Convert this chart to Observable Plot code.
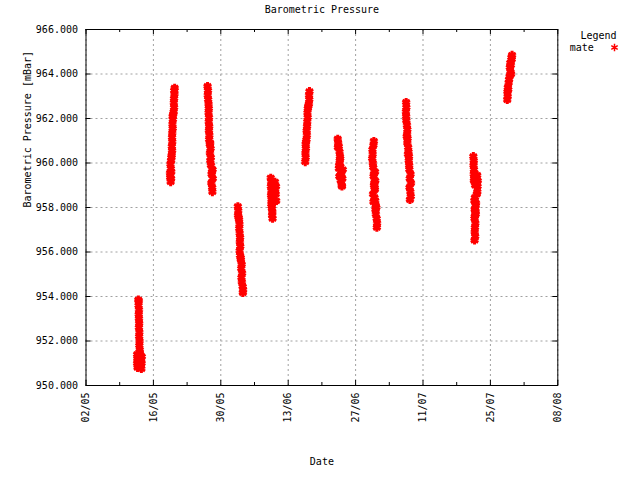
<!DOCTYPE html>
<html><head><meta charset="utf-8">
<script src="https://cdn.jsdelivr.net/npm/d3@7"></script>
<script src="https://cdn.jsdelivr.net/npm/@observablehq/plot@0.6"></script>
<style>body{margin:0;background:#fff}</style>
</head><body><div id="chart"></div>
<script>
// Texts
const chartTitle = "Barometric Pressure";
const xLabel = "Date";
const yLabel = "Barometric Pressure [mBar]";
const legendTitle = "Legend";
const seriesName = "mate";

// Tick labels
const yTicks = [950, 952, 954, 956, 958, 960, 962, 964, 966];
const xTicks = ["2011-05-02","2011-05-16","2011-05-30","2011-06-13","2011-06-27","2011-07-11","2011-07-25","2011-08-08"];
const xMinorTicks = ["2011-05-09","2011-05-23","2011-06-06","2011-06-20","2011-07-04","2011-07-18","2011-08-01"];

// Measurement sessions: start day, hours after start, pressure readings
const sessionStart = ["2011-05-12","2011-05-19","2011-05-27","2011-06-02","2011-06-09","2011-06-16","2011-06-23","2011-06-30","2011-07-07","2011-07-21","2011-07-28"];
const sessionHours = [
  [21,23,22,24,23,24,25,24,26,25,27,26,28,27,15,16,38,15,37,17,36,20,30,33,30,18,35],
  [14,12,16,11,15,17,13,16,19,21,20,22,21,22,24,23,25,24,29,31,30,31,33,32,34,18,27],
  [6,8,7,9,11,12,11,13,12,14,13,15,14,17,21,18,22,20,23,31,26,32,25,29,30,28,19],
  [13,15,14,19,21,20,22,24,23,25,22,24,28,32,30,34,31,33,37,39,38,17,27],
  [9,11,10,12,11,13,12,20,25,30,35,34,36,22,28,15,17,16,18,31,14,24,20,26,14],
  [13,15,14,16,15,19,21,20,22,23,25,24,26,31,33,32,34,28,17],
  [7,9,8,16,18,17,14,20,32,25,15,30,22,27,28,12,24,19,21,13],
  [19,17,12,13,11,14,16,25,18,26,20,24,15,22,26,28,27,29,33,35,34,21,31,19,23,17],
  [12,13,11,12,13,16,18,17,19,18,22,24,26,25,27,28,34,30,36,29,33,35,31,15,21],
  [11,13,12,14,13,15,30,33,20,32,26,31,28,16,22,18,23,17,21,19,18,20,17,24,14,22,19,21,18],
  [12,14,13,15,19,21,24,28,25,27,34,36,33,17,30,31]
];
const sessionPressure = [
  [953.85,953.8,953.6,953.4,953.2,953.0,952.8,952.6,952.4,952.2,952.0,951.8,951.6,951.5,951.4,951.2,951.3,951.0,951.0,950.8,950.75,950.9,950.9,951.1,951.4,951.3,951.15],
  [959.15,959.35,959.3,959.55,959.75,959.6,959.95,960.1,960.35,960.55,960.75,960.95,961.15,961.35,961.55,961.75,961.95,962.1,962.3,962.5,962.7,962.9,963.1,963.25,963.37,960.25,962.2],
  [963.45,963.25,963.05,962.85,962.65,962.45,962.25,962.05,961.85,961.65,961.45,961.25,961.05,960.85,960.65,960.45,960.25,960.1,959.9,959.7,959.5,959.3,959.1,958.9,958.7,959.6,960.9],
  [958.05,957.85,957.65,957.45,957.25,957.05,956.85,956.65,956.45,956.25,956.05,955.85,955.65,955.45,955.25,955.05,954.85,954.65,954.45,954.3,954.17,957.55,955.75],
  [959.33,959.15,958.95,958.75,958.55,958.35,958.15,959.05,958.9,959.15,958.95,958.6,958.3,958.5,958.25,957.95,957.8,957.65,957.5,958.8,958.05,958.7,958.4,958.7,958.55],
  [960.05,960.25,960.45,960.65,960.85,961.05,961.25,961.45,961.65,961.85,962.05,962.25,962.45,962.65,962.85,963.05,963.22,962.55,960.95],
  [961.08,960.9,960.7,960.5,960.3,960.1,959.9,959.85,959.7,959.5,959.4,959.3,959.2,959.0,958.95,960.75,959.6,960.2,959.45,959.75],
  [960.98,960.8,960.6,960.4,960.2,960.0,959.8,959.6,959.4,959.2,959.0,958.8,958.6,958.45,958.3,958.1,957.9,957.7,957.5,957.3,957.1,959.1,958.0,959.5,958.9,958.25],
  [962.73,962.5,962.3,962.1,961.9,961.7,961.5,961.3,961.1,960.9,960.7,960.5,960.3,960.1,959.9,959.7,959.5,959.3,959.1,958.9,958.7,958.5,958.35,961.2,960.4],
  [960.3,960.1,959.9,959.7,959.5,959.3,959.45,959.2,959.0,958.95,959.1,958.7,958.6,958.3,958.1,957.9,957.7,957.5,957.3,957.1,956.9,956.7,956.53,958.2,959.2,957.8,958.45,957.95,957.6],
  [962.84,963.0,963.2,963.4,963.6,963.75,963.9,964.1,964.3,964.5,964.65,964.85,964.75,963.3,964.4,964.0]
];

const parseDay = s => new Date(s + "T00:00:00Z");
const readings = sessionStart.flatMap((s, i) =>
  sessionHours[i].map((h, j) => ({
    date: new Date(parseDay(s).getTime() + h * 3600e3),
    pressure: sessionPressure[i][j]
  })));
const xTickDates = xTicks.map(parseDay);
const xMinorDates = xMinorTicks.map(parseDay);

const W = 640, H = 480, mL = 85.5, mR = 82.7, mT = 29, mB = 95;
const plotW = W - mL - mR, plotH = H - mT - mB;
const grid = {stroke: "#a0a0a0", strokeOpacity: 1, strokeDasharray: "2,3"};
const label = {fill: "black", lineAnchor: "middle"};

const chart = Plot.plot({
  width: W, height: H,
  marginLeft: mL, marginRight: mR, marginTop: mT, marginBottom: mB,
  style: {fontFamily: "'DejaVu Sans Mono', monospace", fontSize: "10px", background: "white", color: "black", overflow: "visible"},
  x: {type: "utc", domain: [xTickDates[0], xTickDates[xTickDates.length - 1]]},
  y: {domain: [yTicks[0], yTicks[yTicks.length - 1]]},
  marks: [
    Plot.gridY(yTicks, grid),
    Plot.gridX(xTickDates, grid),
    Plot.tickY(yTicks, {y: d => d, insetRight: plotW - 5, stroke: "black"}),
    Plot.tickY(yTicks, {y: d => d, insetLeft: plotW - 5, stroke: "black"}),
    Plot.tickX(xTickDates, {x: d => d, insetTop: plotH - 5, stroke: "black"}),
    Plot.tickX(xTickDates, {x: d => d, insetBottom: plotH - 5, stroke: "black"}),
    Plot.tickX(xMinorDates, {x: d => d, insetTop: plotH - 3, stroke: "black"}),
    Plot.tickX(xMinorDates, {x: d => d, insetBottom: plotH - 3, stroke: "black"}),
    Plot.axisY(yTicks, {tickSize: 0, tickPadding: 8, tickFormat: d3.format(".3f"), label: null}),
    Plot.axisX(xTickDates, {tickSize: 0, tickPadding: 7, tickRotate: -90, tickFormat: d3.utcFormat("%d/%m"), label: null}),
    Plot.dot(readings, {x: "date", y: "pressure", symbol: "asterisk", r: 4, stroke: "#ff0000", strokeWidth: 3}),
    Plot.frame({stroke: "black"}),
    Plot.text([chartTitle], {...label, text: d => d, frameAnchor: "top", dy: -20}),
    Plot.text([xLabel], {...label, text: d => d, frameAnchor: "bottom", dy: 76}),
    Plot.text([yLabel], {...label, text: d => d, frameAnchor: "left", dx: -58.5, rotate: -90}),
    Plot.text([legendTitle], {...label, text: d => d, frameAnchor: "top-right", dx: 58.7, dy: 6.7, textAnchor: "end"}),
    Plot.text([seriesName], {...label, text: d => d, frameAnchor: "top-right", dx: 12, dy: 18.3, textAnchor: "start"}),
    Plot.dot([seriesName], {frameAnchor: "top-right", dx: 56.7, dy: 18, symbol: "asterisk", r: 3.5, stroke: "#ff0000", strokeWidth: 1.5})
  ]
});
document.getElementById("chart").appendChild(chart);
</script>
</body></html>
